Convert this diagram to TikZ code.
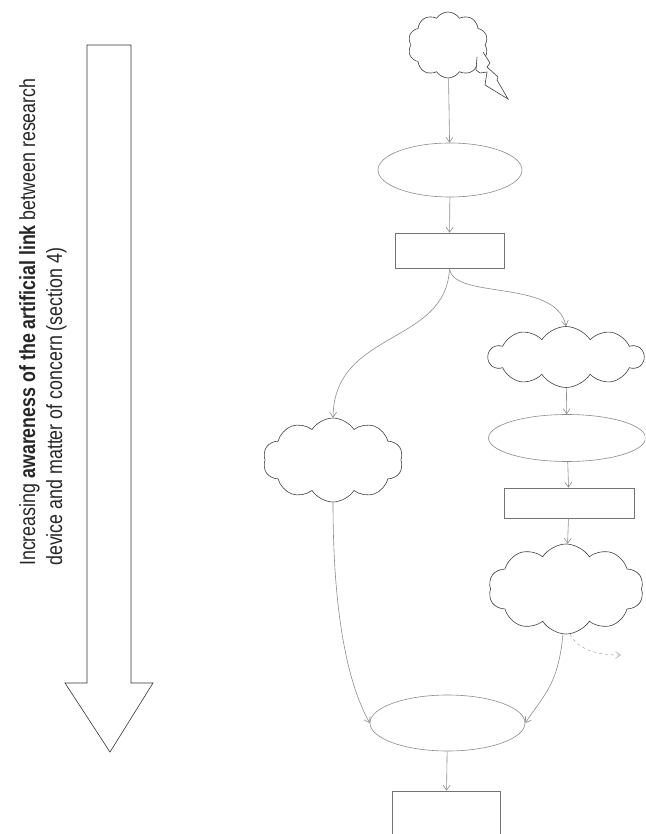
\documentclass[tikz,border=0pt]{standalone}
\usepackage{fontspec}
\setmainfont{Liberation Sans}
\newfontfamily\narrowfont[FakeStretch=0.81]{Liberation Sans}
\usetikzlibrary{shapes.geometric, shapes.symbols, arrows.meta}

\begin{document}
\begin{tikzpicture}[x=1pt, y=-1pt,
    line/.style={draw=black!45, line width=0.6pt},
    arr/.style={line, -{Straight Barb[length=5pt,width=7pt]}},
    oval/.style={ellipse, draw=black!45, line width=0.6pt, fill=white, inner sep=0pt},
    box/.style={rectangle, draw=black!55, line width=0.6pt, fill=white, inner sep=0pt},
    puff/.style={cloud, draw=black!75, line width=0.6pt, fill=white, cloud puffs=10,
        cloud puff arc=115, cloud ignores aspect, inner sep=0pt}]
    \clip (0,0) rectangle (645,834);
    % Big arrow on the left
    \draw[black!80, line width=0.6pt] (87,45) -- (131,45) -- (131,683) -- (153,683)
        -- (110,752) -- (65,683) -- (87,683) -- cycle;
    \node[rotate=90, anchor=north west, align=left, inner sep=0pt, text=black!85,
        font=\narrowfont\fontsize{22}{27}\selectfont] (trend) at (19,566)
        {Increasing \textbf{awareness of the artificial link} between research\\
         device and matter of concern (section 4)};
    % Nodes
    \node[puff, minimum width=80pt, minimum height=66pt] (storm) at (448,45) {};
    \node[oval, minimum width=144pt, minimum height=54pt] (framing) at (450,170) {};
    \node[box, minimum width=109pt, minimum height=35pt] (device) at (449.5,250.5) {};
    \node[puff, minimum width=140pt, minimum height=84pt] (worry) at (333,460) {};
    \node[puff, minimum width=155pt, minimum height=61pt] (concernA) at (566,357) {};
    \node[oval, minimum width=157pt, minimum height=47pt] (reframing) at (567,438) {};
    \node[box, minimum width=130pt, minimum height=30pt] (deviceB) at (569,503) {};
    \node[puff, minimum width=155pt, minimum height=90pt] (concernB) at (566,589) {};
    \node[oval, minimum width=155pt, minimum height=56pt] (meeting) at (447.5,723) {};
    \node[box, minimum width=108pt, minimum height=80pt] (outcome) at (446,831) {};
    \coordinate (drift) at (621,655);
    % Lightning out of the first cloud
    \draw[black!75, line width=0.6pt, fill=white] (477,57) -- (476,70) -- (480,73) -- (487,72)
        -- (485,85) -- (508,99) -- (497,80) -- (498,77) -- (487,67) -- (490,63) -- (483,52);
    % Connectors
    \draw[arr] (storm) -- (framing);
    \draw[arr] (framing) -- (device);
    \draw[arr] (device.south) .. controls +(-3,77) and +(1,-88) .. (worry.north);
    \draw[arr] (device.south) .. controls +(3,32) and +(-10,-48) .. (concernA.north);
    \draw[arr] (concernA) -- (reframing);
    \draw[arr] (reframing) -- (deviceB);
    \draw[arr] (deviceB) -- (concernB);
    \draw[arr] (worry.south) .. controls +(0,100) and +(-25,-45) .. (meeting.west);
    \draw[arr] ([xshift=-3pt]concernB.south) .. controls +(-5,50) and +(20,-30) .. (meeting.east);
    \draw[arr, draw=black!30, dashed] ([xshift=4pt]concernB.south) .. controls +(8,15) and +(-25,0) .. (drift);
    \draw[arr] (meeting) -- (outcome);
\end{tikzpicture}
\end{document}
